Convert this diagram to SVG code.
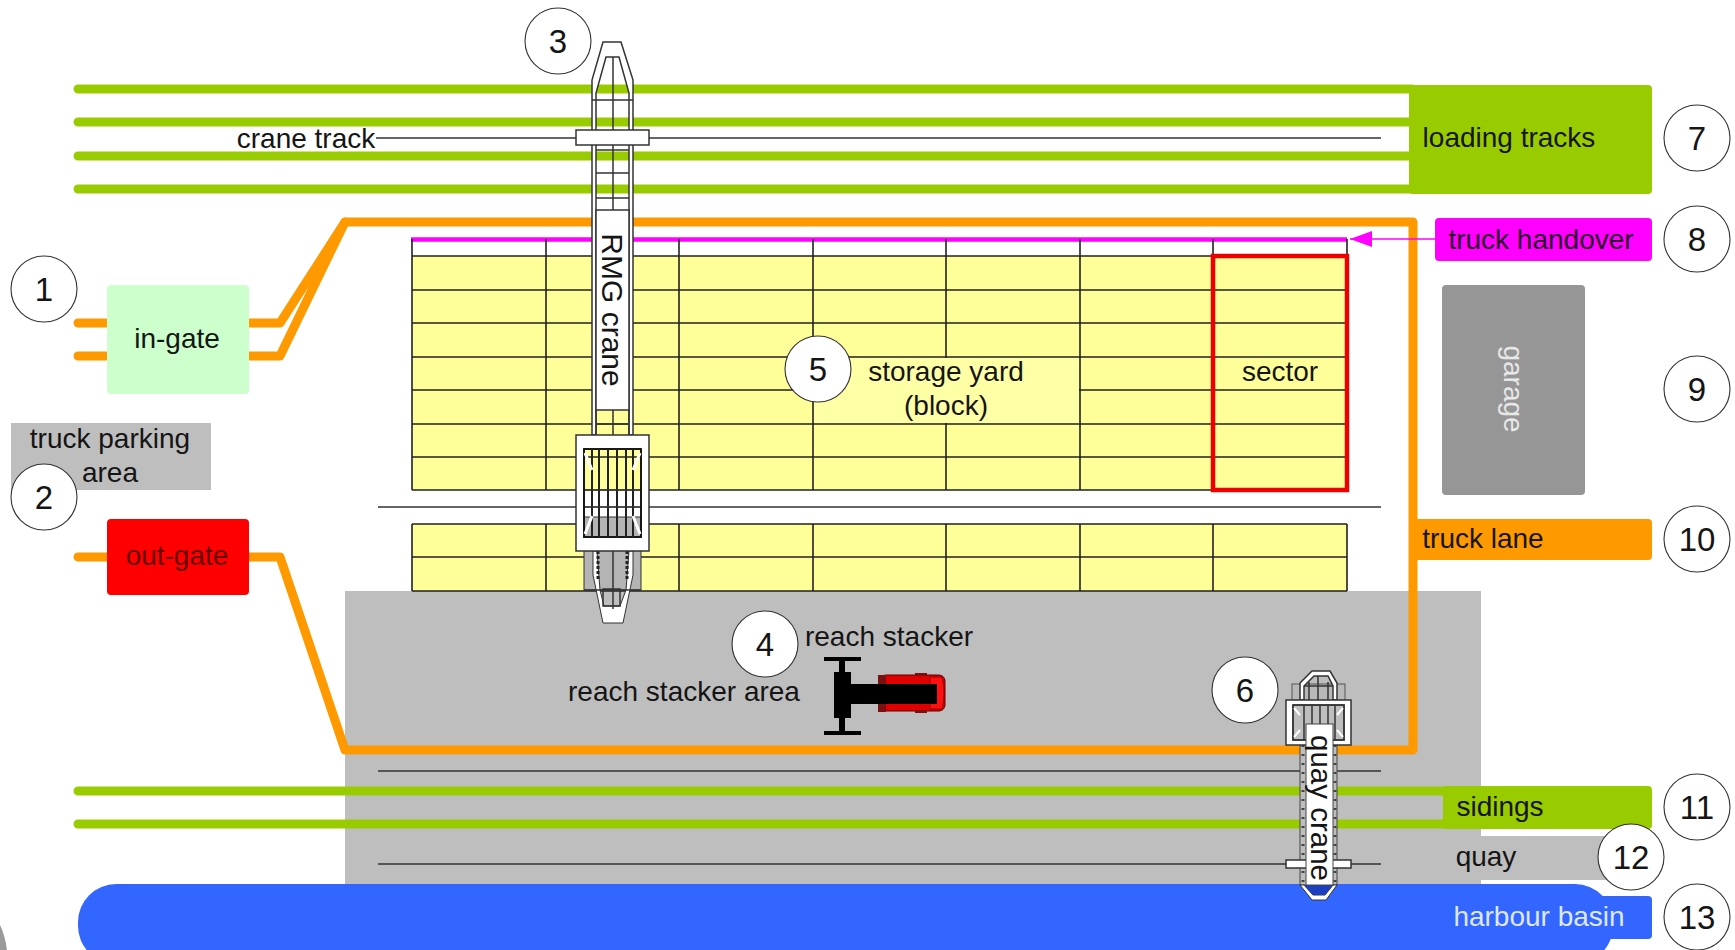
<svg xmlns="http://www.w3.org/2000/svg" width="1735" height="950" viewBox="0 0 1735 950">
<style>
text{font-family:"Liberation Sans",Arial,sans-serif;font-size:28px;fill:#151515;text-anchor:middle}
.n text{font-size:33px}
.n circle{fill:#fff;stroke:#333;stroke-width:1.1}
.tr{stroke:#99cc00;stroke-width:9;fill:none;stroke-linecap:round}
.or{stroke:#ff9900;stroke-width:9;fill:none;stroke-linecap:round;stroke-linejoin:round}
.th{stroke:#333;stroke-width:1.5;fill:none}
.g{stroke:#222;stroke-width:1.6;fill:none}
.c{stroke:#333;stroke-width:1.5;fill:none}
.cw{stroke:#333;stroke-width:1.5;fill:#fff}
</style>
<defs>
<marker id="ah" markerUnits="userSpaceOnUse" markerWidth="22" markerHeight="16" refX="22" refY="8" orient="auto-start-reverse"><path d="M0 8L22 0V16Z" fill="#ff00ff" transform="matrix(-1 0 0 1 22 0)"/></marker>
</defs>
<rect width="1735" height="950" fill="#fff"/>
<path d="M0 925Q5 935 7 950H0Z" fill="#9a9a9a"/>

<g id="reach-stacker-area"><rect x="345" y="591" width="1136" height="295" fill="#bebebe"/></g>
<g id="quay"><rect x="1481" y="836" width="152" height="44" fill="#bebebe"/><text x="1486" y="866">quay</text></g>
<g id="harbour-basin">
<rect x="78" y="884" width="1535" height="80" rx="38" fill="#3366ff"/>
<rect x="1560" y="896" width="92" height="43" rx="4" fill="#3366ff"/>
<text x="1539" y="926" style="fill:#dde8ff">harbour basin</text>
</g>
<g id="loading-tracks"><rect x="1409" y="85" width="243" height="109" rx="4" fill="#99cc00"/><text x="1509" y="147">loading tracks</text></g>
<g id="sidings"><rect x="1442" y="786" width="210" height="43" rx="4" fill="#99cc00"/><rect x="1442" y="796" width="1" height="23" fill="#bebebe"/><text x="1500" y="816">sidings</text></g>

<g id="connectors">
<path class="tr" d="M78 89H1412M78 122H1412M78 156H1412M78 189H1412M78 791H1445M78 824H1445"/>
<path class="th" d="M376 138H1381M378 507H1381M378 771H1381M378 864H1381"/>
<path class="or" d="M78 323H107M78 356H107M78 557H107"/>
<path class="or" d="M249 323H280L345 222H1413V750H345L280 557H249"/>
<path class="or" d="M249 356H280L345 222"/>
<path d="M411 239.500H1347" stroke="#ff00ff" stroke-width="4.500" fill="none"/>
<path d="M1435 239H1350" stroke="#ff00ff" stroke-width="1.500" fill="none" marker-end="url(#ah)"/>
</g>

<g id="in-gate"><rect x="107" y="285" width="142" height="109" rx="4" fill="#ccffcc"/><text x="177" y="348">in-gate</text></g>
<g id="out-gate"><rect x="107" y="519" width="142" height="76" rx="4" fill="#ff0000"/><text x="177" y="565" style="fill:#660000">out-gate</text></g>
<g id="truck-parking"><rect x="11" y="423" width="200" height="67" fill="#bebebe"/><text x="110" y="448">truck parking</text><text x="110" y="482">area</text></g>
<g id="truck-handover"><rect x="1435" y="218" width="217" height="43" rx="4" fill="#ff00ff"/><text x="1541" y="249" style="fill:#2a002a">truck handover</text></g>
<g id="garage"><rect x="1442" y="285" width="143" height="210" rx="4" fill="#969696"/><text transform="translate(1504 389) rotate(90)" style="fill:#e8e8e8">garage</text></g>
<g id="truck-lane"><rect x="1409" y="519" width="243" height="41" rx="4" fill="#ff9900"/><text x="1483" y="548">truck lane</text></g>

<g id="storage-yard">
<rect x="412" y="256" width="935" height="234" fill="#ffff99"/>
<rect x="412" y="524" width="935" height="67" fill="#ffff99"/>
<path class="g" d="M412 239V490M546 239V490M679 239V490M813 239V490M946 239V490M1080 239V490M1213 239V490M1347 239V490M412 256H1347M412 290H1347M412 323H1347M412 357H1347M412 390H1347M412 424H1347M412 457H1347M412 490H1347"/>
<path class="g" d="M412 524H1347M412 557H1347M412 591H1347M412 524V591M546 524V591M679 524V591M813 524V591M946 524V591M1080 524V591M1213 524V591M1347 524V591"/>
<rect x="814" y="358" width="265" height="65" fill="#ffffa6"/>
<text x="946" y="381">storage yard</text><text x="946" y="415">(block)</text>
</g>
<g id="sector"><rect x="1213" y="256" width="134" height="234" fill="none" stroke="#ee0000" stroke-width="4.500"/><text x="1280" y="381">sector</text></g>

<g id="reach-stacker">
<text x="889" y="646">reach stacker</text>
<text x="684" y="701">reach stacker area</text>
<rect x="880" y="675" width="65" height="36" rx="6" fill="#e00000" stroke="#600000"/>
<path d="M930 677h12q4 16 0 32h-12z" fill="#ff1010" stroke="#800000" stroke-width=".8"/>
<path d="M878 675h8v37h-8zM915 673h12v3h-12zM915 710h12v3h-12z" fill="#7a1010"/>
<path d="M824 657h37v4h-37zM839 660h6v73h-6zM824 731h37v4h-37zM834 672h17v46h-17zM851 684h86v20h-86z" fill="#000"/>
</g>

<g id="rmg-crane">
<rect x="584" y="517" width="57" height="73" fill="#b4b4b4" stroke="#333"/>
<path d="M592 435V80L603 42H621L633 80V435H629V93L619 57H606L596 93V435Z" fill="#fff" stroke="#333" stroke-width="1.500"/>
<path class="c" d="M613 57V210M592 100H633M596 150H629M596 173H629M596 198H629"/>
<path d="M593 575L603 623H623L633 575V551H629L626 590L620 606H604L600 590L597 551H593Z" fill="#fff" stroke="#333"/>
<path class="c" d="M603 589H620V606H603ZM613 551V609M584 590H641"/>
<path d="M598 551V580M627 551V580" stroke="#222" stroke-width="3" stroke-dasharray="3 2" fill="none"/>
<rect class="cw" x="576" y="130" width="73" height="15"/>
<rect class="cw" x="596" y="210" width="33" height="200"/>
<path class="c" d="M596 410V435M629 410V435M613 410V435M596 424H629"/>
<text transform="translate(602 310) rotate(90)" style="font-size:30px">RMG crane</text>
<path d="M576 435H649V551H576ZM584 449V537H641V449Z" fill="#fff" stroke="#333" stroke-width="1.500" fill-rule="evenodd"/>
<rect x="584" y="449" width="57" height="88" fill="none" stroke="#111" stroke-width="1.800"/>
<path d="M592 449V537M599 449V537M608 449V537M617 449V537M626 449V537M633 449V537" stroke="#222" stroke-width="2" fill="none"/>
<path d="M585 490H640M585 507H640" stroke="#333" stroke-width="1" fill="none"/>
<path d="M585 453L592 470M640 453L633 470M585 534L592 516M640 534L633 516" stroke="#fff" stroke-width="3" fill="none"/>
</g>

<g id="quay-crane">
<rect x="1292" y="684" width="53" height="17" fill="#b8b8b8" stroke="#555"/>
<path d="M1300 700V683L1312 671H1330L1337 683V700H1333V686L1328 676H1314L1304 686V700Z" fill="#fff" stroke="#333" stroke-width="1.500"/>
<path class="c" d="M1304 686H1333M1318 676V700M1309 682V700M1328 682V700"/>
<rect x="1300" y="745" width="37" height="140" fill="#bebebe" stroke="#444"/>
<path d="M1303 745V885M1335 745V885" stroke="#444" stroke-width="3" stroke-dasharray="2 7" fill="none"/>
<path d="M1300 885L1312 900H1326L1337 885H1333L1325 895H1313L1304 885Z" fill="#fff" stroke="#333"/>
<path d="M1304 885L1313 895H1325L1333 885Z" fill="#1c3fc0"/>
<rect class="cw" x="1286" y="860" width="65" height="8"/>
<path d="M1286 700H1351V745H1286ZM1293 705V740H1344V705Z" fill="#fff" stroke="#333" stroke-width="1.500" fill-rule="evenodd"/>
<path class="c" d="M1293 705H1344V740H1293ZM1304 705V740M1312 705V740M1320 705V740M1328 705V740M1335 705V740"/>
<path d="M1294 708L1300 715M1343 708L1337 715M1294 737L1300 730M1343 737L1337 730" stroke="#fff" stroke-width="2" fill="none"/>
<rect x="1306" y="724" width="27" height="161" fill="#fff" stroke="#444"/>
<text transform="translate(1311 808) rotate(90)" style="font-size:29.500px">quay crane</text>
</g>

<g id="crane-track-label"><text x="306" y="148">crane track</text></g>

<g class="n" id="n1"><circle cx="44" cy="289" r="33"/><text x="44" y="301">1</text></g>
<g class="n" id="n2"><circle cx="44" cy="497" r="33"/><text x="44" y="509">2</text></g>
<g class="n" id="n3"><circle cx="558" cy="41" r="33"/><text x="558" y="53">3</text></g>
<g class="n" id="n4"><circle cx="765" cy="644" r="33"/><text x="765" y="656">4</text></g>
<g class="n" id="n5"><circle cx="818" cy="369" r="33"/><text x="818" y="381">5</text></g>
<g class="n" id="n6"><circle cx="1245" cy="690" r="33"/><text x="1245" y="702">6</text></g>
<g class="n" id="n7"><circle cx="1697" cy="138" r="33"/><text x="1697" y="150">7</text></g>
<g class="n" id="n8"><circle cx="1697" cy="239" r="33"/><text x="1697" y="251">8</text></g>
<g class="n" id="n9"><circle cx="1697" cy="389" r="33"/><text x="1697" y="401">9</text></g>
<g class="n" id="n10"><circle cx="1697" cy="539" r="33"/><text x="1697" y="551">10</text></g>
<g class="n" id="n11"><circle cx="1697" cy="807" r="33"/><text x="1697" y="819">11</text></g>
<g class="n" id="n12"><circle cx="1631" cy="857" r="33"/><text x="1631" y="869">12</text></g>
<g class="n" id="n13"><circle cx="1697" cy="917" r="33"/><text x="1697" y="929">13</text></g>
</svg>
